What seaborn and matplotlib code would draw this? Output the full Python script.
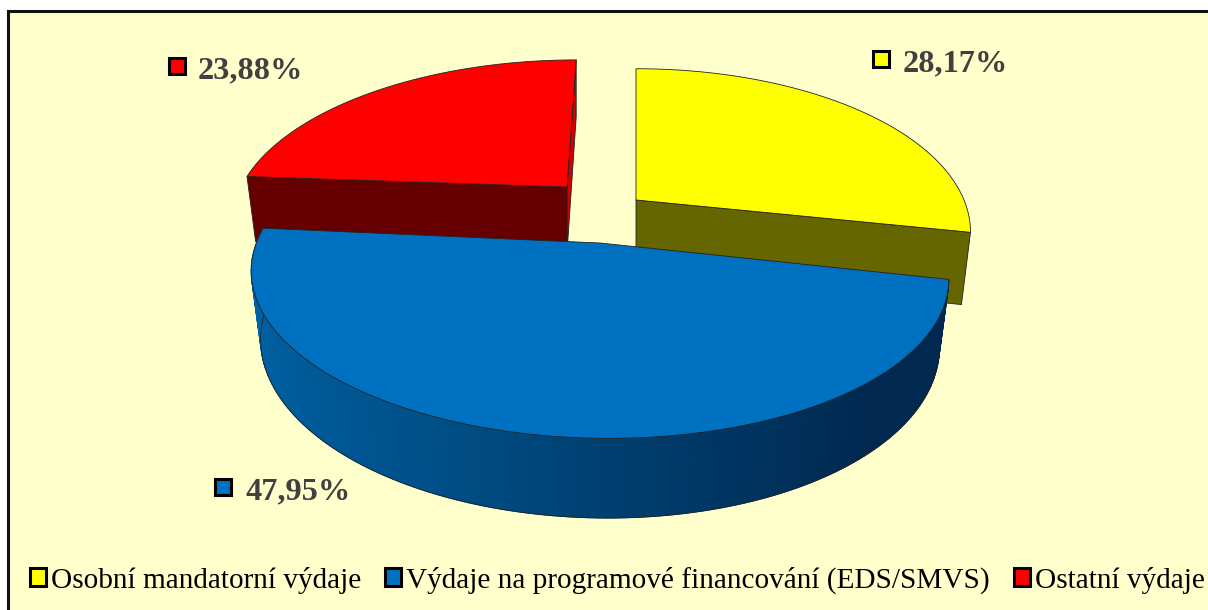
import numpy as np
import matplotlib
matplotlib.use("Agg")
import matplotlib.pyplot as plt
from matplotlib.patches import Polygon, Rectangle, Patch
import seaborn as sns

categories = ["Osobní mandatorní výdaje", "Výdaje na programové financování (EDS/SMVS)", "Ostatní výdaje"]
values = [28.17, 47.95, 23.88]
value_labels = ["28,17%", "47,95%", "23,88%"]
colors = ["#FFFF00", "#0070C0", "#FF0000"]
side_colors = ["#666600", "#002850", "#660000"]

sns.set_theme(style="white")
plt.rcParams["font.family"] = ["Liberation Serif", "DejaVu Serif"]

# top face of every slice: apex, radii, perspective k, shears s and r
top = [
    dict(cx=636, cy=200, rx=328, ry=157, k=0.196, s=0, r=0),
    dict(cx=600, cy=243, rx=342, ry=157, k=0.196, s=0, r=4),
    dict(cx=567, cy=187, rx=326, ry=152, k=0.196, s=-11, r=0),
]
depth = [70, 66, 66]
x_scale = 0.973
y_scale = 1.07


def project(t, p, lower=False, dy=0):
    u = np.sin(t)
    v = -np.cos(t)
    w = 1 - p["k"] * v
    rx = p["rx"] * (x_scale if lower else 1)
    ry = p["ry"] * (y_scale if lower else 1)
    x = p["cx"] + (rx * u + p["s"] * v) / w
    y = p["cy"] + (dy if lower else 0) + (ry * v + p["r"] * u) / w
    return np.column_stack([x, y])


fractions = np.array(values) / sum(values)
ends = np.cumsum(fractions) * 2 * np.pi
starts = ends - fractions * 2 * np.pi

fig = plt.figure(figsize=(12.08, 6.10), dpi=100)
ax = fig.add_axes([0, 0, 1, 1])
ax.set_xlim(0, 1208)
ax.set_ylim(610, 0)
ax.axis("off")
ax.add_patch(Rectangle((8, 11), 1300, 700, fc="#FFFFCC", ec="#111111", lw=2.2, zorder=0))

edge = dict(ec="#222222", lw=0.6, joinstyle="round")


def cut_face(i, angle, color):
    p = top[i]
    a0 = np.array([[p["cx"], p["cy"]]])
    a1 = a0 + [0, depth[i]]
    rim = project(np.array([angle]), p)
    rim2 = project(np.array([angle]), p, True, depth[i])
    ax.add_patch(Polygon(np.vstack([a0, rim, rim2, a1]), fc=color, **edge))


def top_face(i):
    p = top[i]
    t = np.linspace(starts[i], ends[i], 200)
    pts = np.vstack([[[p["cx"], p["cy"]]], project(t, p)])
    ax.add_patch(Polygon(pts, fc=colors[i], **edge))


# red slice at the back
cut_face(2, ends[2], "#D00000")
cut_face(2, starts[2], side_colors[2])
top_face(2)

# yellow slice
cut_face(0, ends[0], side_colors[0])
top_face(0)

# blue slice in front, wall shaded from left to right
i = 1
n = 140
shades = sns.blend_palette(["#0068AE", "#005E9E", "#00508A", "#003A68", side_colors[1], side_colors[1]], n_colors=n)
t = np.linspace(ends[i], starts[i], n + 1)
upper = project(t, top[i])
lower = project(t, top[i], True, depth[i])
for j in range(n):
    quad = np.vstack([upper[j:j + 2], lower[j:j + 2][::-1]])
    ax.add_patch(Polygon(quad, fc=shades[j], ec=shades[j], lw=0.8))
ax.plot(lower[:, 0], lower[:, 1], color="#222222", lw=0.6, zorder=1)
top_face(1)

# value labels with their keys
key_pos = [(881, 59), (223, 487), (177, 66)]
text_pos = [(903, 71), (245, 499), (198, 78)]
for i in range(3):
    ax.add_patch(Rectangle((key_pos[i][0] - 8, key_pos[i][1] - 8), 16, 16, fc=colors[i], ec="black", lw=2.2))
    ax.text(text_pos[i][0], text_pos[i][1], value_labels[i], color="#404040", fontsize=23.3,
            fontweight="bold", ha="left", va="baseline")

handles = [Patch(fc=c, ec="black", lw=2.2) for c in colors]
ax.legend(handles, categories, ncol=3, frameon=False, fontsize=21.1,
          loc="lower left", bbox_to_anchor=(30 / 1208, 16 / 610), bbox_transform=fig.transFigure,
          handlelength=0.55, handleheight=0.55, handletextpad=0.17, columnspacing=0.82,
          labelcolor="black", borderaxespad=0, borderpad=0)

fig.savefig("out.png", dpi=100)
